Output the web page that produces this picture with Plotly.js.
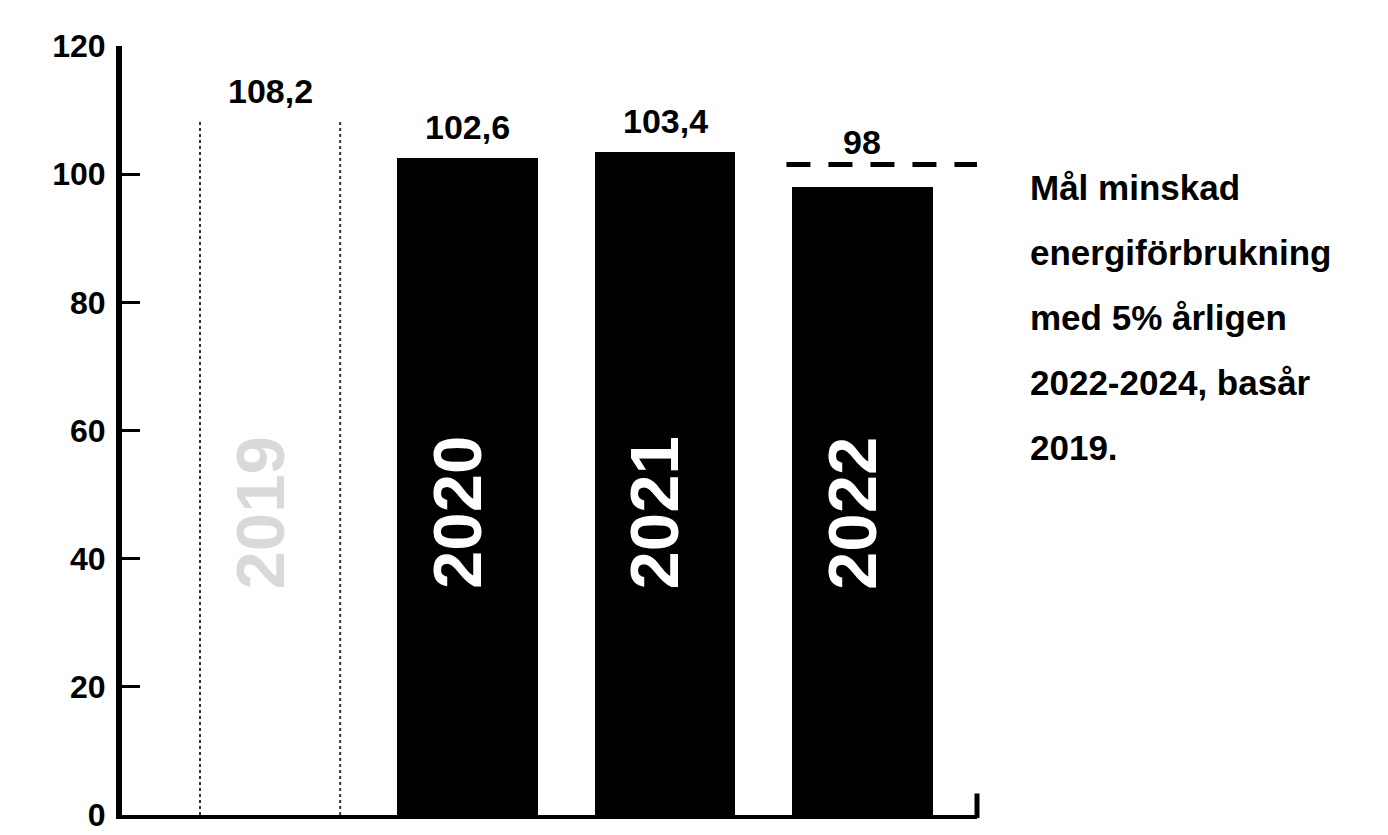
<!DOCTYPE html>
<html>
<head>
<meta charset="utf-8">
<script src="https://cdn.plot.ly/plotly-3.0.1.min.js"></script>
<style>
  html, body { margin: 0; padding: 0; background: #ffffff; }
  #chart { width: 1388px; height: 835px; }
</style>
</head>
<body>
<div id="chart"></div>
<script>
// Energy use index per year (base year 2019)
const years = ['2019', '2020', '2021', '2022'];
const values = [108.2, 102.6, 103.4, 98];
const valueLabels = ['108,2', '102,6', '103,4', '98'];
const targetLevel = 101.5;          // dashed target line for 2022
const yTickValues = [0, 20, 40, 60, 80, 100, 120];
const yTickLabels = ['0', '20', '40', '60', '80', '100', '120'];
const noteLines = ['Mål minskad', 'energiförbrukning', 'med 5% årligen', '2022-2024, basår', '2019.'];

const FONT = '"Liberation Sans", Arial, sans-serif';
const barWidth = 0.71;
const xRange = [-0.75, 3.58];
const xs = years.map((_, i) => i);
const lastIdx = xs.length - 1;

// first year is drawn as an open (white) bar, the rest solid black
const fills = years.map((_, i) => i === 0 ? '#ffffff' : '#000000');

const bars = {
  type: 'bar',
  x: xs,
  y: values,
  width: barWidth,
  marker: { color: fills, line: { width: 0 } },
  hoverinfo: 'skip',
  showlegend: false
};

// dotted sides of the open 2019 bar
const x0 = xs[0] - barWidth / 2, x1 = xs[0] + barWidth / 2;
const openOutline = {
  type: 'scatter', mode: 'lines',
  x: [x0, x0, null, x1, x1],
  y: [0, values[0], null, 0, values[0]],
  line: { color: '#333333', width: 2, dash: 'dot' },
  hoverinfo: 'skip', showlegend: false
};

// dashed target line over the last bar
const target = {
  type: 'scatter', mode: 'lines',
  x: [xs[lastIdx] - barWidth / 2 - 0.03, xRange[1] + 0.05],
  y: [targetLevel, targetLevel],
  line: { color: '#000000', width: 5, dash: '24px,18px' },
  hoverinfo: 'skip', showlegend: false
};

const annotations = [];

// value labels above each bar (the last one sits above the target line)
values.forEach((v, i) => {
  const onTarget = i === lastIdx && targetLevel > v;
  annotations.push({
    x: xs[i], y: onTarget ? targetLevel : v, xref: 'x', yref: 'y',
    text: valueLabels[i], showarrow: false,
    xanchor: 'center', yanchor: 'bottom', yshift: onTarget ? 2 : 10,
    font: { family: FONT, size: 34, color: '#000', weight: 'bold' }
  });
});

// rotated year labels inside the bars
years.forEach((yr, i) => {
  annotations.push({
    x: xs[i], y: 47.2, xref: 'x', yref: 'y',
    text: yr, showarrow: false, textangle: -90,
    xanchor: 'center', yanchor: 'middle', xshift: -10,
    font: { family: FONT, size: 69, weight: 'bold',
            color: i === 0 ? 'rgba(0,0,0,0.15)' : '#ffffff' }
  });
});

// side note, one annotation per line for wide line spacing
noteLines.forEach((line, k) => {
  annotations.push({
    x: 1.06, y: 0.8165 - k * 0.0845, xref: 'paper', yref: 'paper',
    text: line, showarrow: false, xanchor: 'left', yanchor: 'middle',
    font: { family: FONT, size: 35, color: '#000', weight: 'bold' }
  });
});

const layout = {
  width: 1388, height: 835,
  margin: { l: 122, r: 411, t: 46, b: 20 },
  paper_bgcolor: '#ffffff', plot_bgcolor: '#ffffff',
  bargap: 0,
  xaxis: {
    range: xRange, showgrid: false, zeroline: false,
    showticklabels: false, ticks: '',
    showline: true, linecolor: '#000', linewidth: 4
  },
  yaxis: {
    range: [0, 120], showgrid: false, zeroline: false,
    tickmode: 'array', tickvals: yTickValues, ticktext: yTickLabels,
    ticks: 'inside', ticklen: 18, tickwidth: 3, tickcolor: '#000',
    showline: true, linecolor: '#000', linewidth: 6,
    ticklabelstandoff: 4, ticklabeloverflow: 'allow',
    tickfont: { family: FONT, size: 32, color: '#000', weight: 'bold' }
  },
  shapes: [{
    // short upright stroke closing the right end of the baseline
    type: 'line', xref: 'paper', yref: 'paper',
    x0: 1, x1: 1, y0: -0.004, y1: 0.028,
    line: { color: '#000', width: 5 }
  }],
  annotations: annotations,
  showlegend: false
};

Plotly.newPlot('chart', [bars, openOutline, target], layout, { displayModeBar: false, staticPlot: true });
</script>
</body>
</html>
